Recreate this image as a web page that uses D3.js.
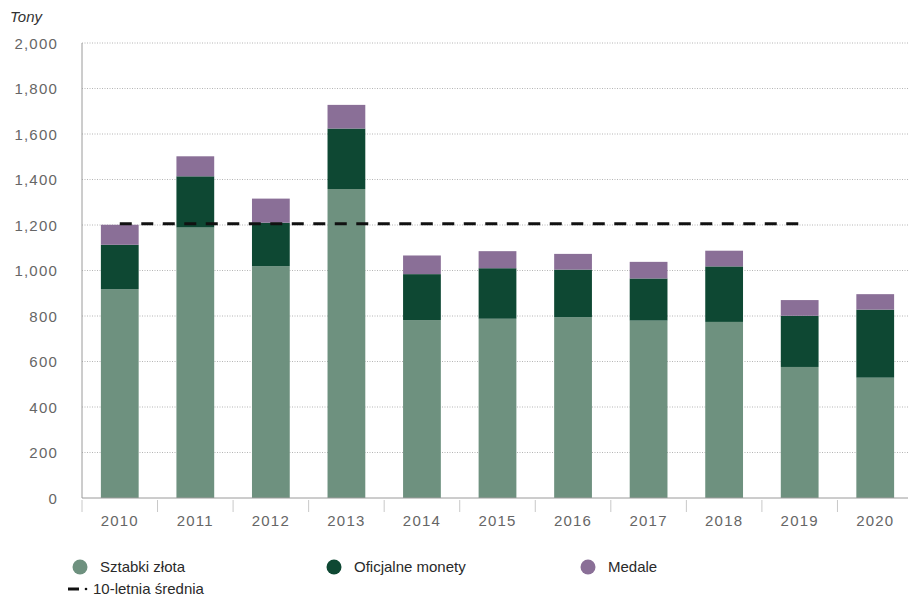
<!DOCTYPE html>
<html lang="pl">
<head>
    <meta charset="UTF-8">
    <title>Popyt na złoto</title>
    <script src="https://cdn.jsdelivr.net/npm/d3@7"></script>
    <style>
        body {
            margin: 0;
            background: #fff;
            font-family: 'Liberation Sans', Arial, sans-serif;
        }
        .tick-label {
            font-size: 15px;
            fill: #666;
            letter-spacing: 1.2px;
        }
        .legend-text {
            font-size: 15px;
            fill: #2a2a2a;
        }
    </style>
</head>
<body>
    <svg id="chart" width="908" height="597"></svg>

    <script>
        // dane (tony)
        const years = ["2010", "2011", "2012", "2013", "2014", "2015", "2016", "2017", "2018", "2019", "2020"];
        const sztabki = [918, 1189, 1019, 1358, 782, 788, 795, 780, 774, 576, 529];
        const monety = [195, 225, 191, 266, 202, 222, 209, 185, 244, 225, 299];
        const medale = [88, 88, 106, 104, 82, 75, 69, 73, 69, 69, 68];
        const avgYears = ["2010", "2019"];
        const avgValue = 1205;
        const yTicks = [0, 200, 400, 600, 800, 1000, 1200, 1400, 1600, 1800, 2000];

        const seriesNames = ["Sztabki złota", "Oficjalne monety", "Medale"];
        const colors = ["#6e917f", "#0e4833", "#8a6f97"];

        const svg = d3.select("#chart");
        const mLeft = 82, mRight = 913, mTop = 43, mBottom = 498;

        const x = d3.scaleBand()
            .domain(years)
            .range([mLeft, mRight])
            .paddingInner(0.5)
            .paddingOuter(0.25);

        const y = d3.scaleLinear()
            .domain([0, 2000])
            .range([mBottom, mTop]);

        // siatka
        svg.append("g")
            .selectAll("line")
            .data(yTicks.filter(d => d > 0))
            .enter()
            .append("line")
            .attr("x1", mLeft)
            .attr("x2", 908)
            .attr("y1", d => y(d))
            .attr("y2", d => y(d))
            .attr("stroke", "#b5b5b5")
            .attr("stroke-width", 1)
            .attr("stroke-dasharray", "1,1.5");

        // etykiety osi Y
        const yAxis = d3.axisLeft(y)
            .tickValues(yTicks)
            .tickSize(0)
            .tickPadding(0)
            .tickFormat(d3.format(","));

        const gy = svg.append("g")
            .attr("transform", "translate(58,0)")
            .call(yAxis);
        gy.select(".domain").remove();
        gy.attr("font-family", null).attr("font-size", null);
        gy.selectAll("text")
            .attr("class", "tick-label")
            .attr("fill", null)
            .attr("dy", "0.35em");

        // słupki
        const rows = years.map((yr, i) => ({
            year: yr,
            "Sztabki złota": sztabki[i],
            "Oficjalne monety": monety[i],
            "Medale": medale[i]
        }));
        const stacked = d3.stack().keys(seriesNames)(rows);

        svg.append("g")
            .selectAll("g")
            .data(stacked)
            .enter()
            .append("g")
            .attr("fill", (d, i) => colors[i])
            .selectAll("rect")
            .data(d => d)
            .enter()
            .append("rect")
            .attr("x", d => x(d.data.year))
            .attr("width", x.bandwidth())
            .attr("y", d => y(d[1]))
            .attr("height", d => y(d[0]) - y(d[1]));

        // oś Y i X
        svg.append("line")
            .attr("x1", mLeft).attr("x2", mLeft)
            .attr("y1", mTop).attr("y2", mBottom)
            .attr("stroke", "#9a9a9a");

        svg.append("line")
            .attr("x1", mLeft).attr("x2", 908)
            .attr("y1", mBottom).attr("y2", mBottom)
            .attr("stroke", "#9a9a9a");

        const step = x.step();
        const bounds = d3.range(years.length + 1).map(i => mLeft + i * step);
        svg.append("g")
            .selectAll("line")
            .data(bounds)
            .enter()
            .append("line")
            .attr("x1", d => d).attr("x2", d => d)
            .attr("y1", mBottom + 2).attr("y2", mBottom + 14)
            .attr("stroke", "#c8c8c8");

        svg.append("g")
            .selectAll("text")
            .data(years)
            .enter()
            .append("text")
            .attr("class", "tick-label")
            .attr("x", d => x(d) + x.bandwidth() / 2)
            .attr("y", 526)
            .attr("text-anchor", "middle")
            .text(d => d);

        // 10-letnia średnia
        svg.append("line")
            .attr("x1", x(avgYears[0]) + x.bandwidth() / 2)
            .attr("x2", x(avgYears[1]) + x.bandwidth() / 2)
            .attr("y1", y(avgValue))
            .attr("y2", y(avgValue))
            .attr("stroke", "#111")
            .attr("stroke-width", 3)
            .attr("stroke-dasharray", "12,9.5");

        // jednostka
        svg.append("text")
            .attr("x", 10)
            .attr("y", 22)
            .attr("font-size", 15)
            .attr("font-style", "italic")
            .attr("fill", "#333")
            .text("Tony");

        // legenda
        const legendX = [80, 334, 588];
        const legend = svg.append("g")
            .selectAll("g")
            .data(seriesNames)
            .enter()
            .append("g")
            .attr("transform", (d, i) => `translate(${legendX[i]},567)`);

        legend.append("circle")
            .attr("r", 7.5)
            .attr("fill", (d, i) => colors[i]);

        legend.append("text")
            .attr("class", "legend-text")
            .attr("x", 20)
            .attr("dy", "0.35em")
            .text(d => d);

        const avgLegend = svg.append("g").attr("transform", "translate(68,589)");
        avgLegend.append("line")
            .attr("x1", 0).attr("x2", 11)
            .attr("stroke", "#111").attr("stroke-width", 3);
        avgLegend.append("circle")
            .attr("cx", 18).attr("r", 1.3).attr("fill", "#111");
        avgLegend.append("text")
            .attr("class", "legend-text")
            .attr("x", 25)
            .attr("dy", "0.35em")
            .text("10-letnia średnia");
    </script>
</body>
</html>
